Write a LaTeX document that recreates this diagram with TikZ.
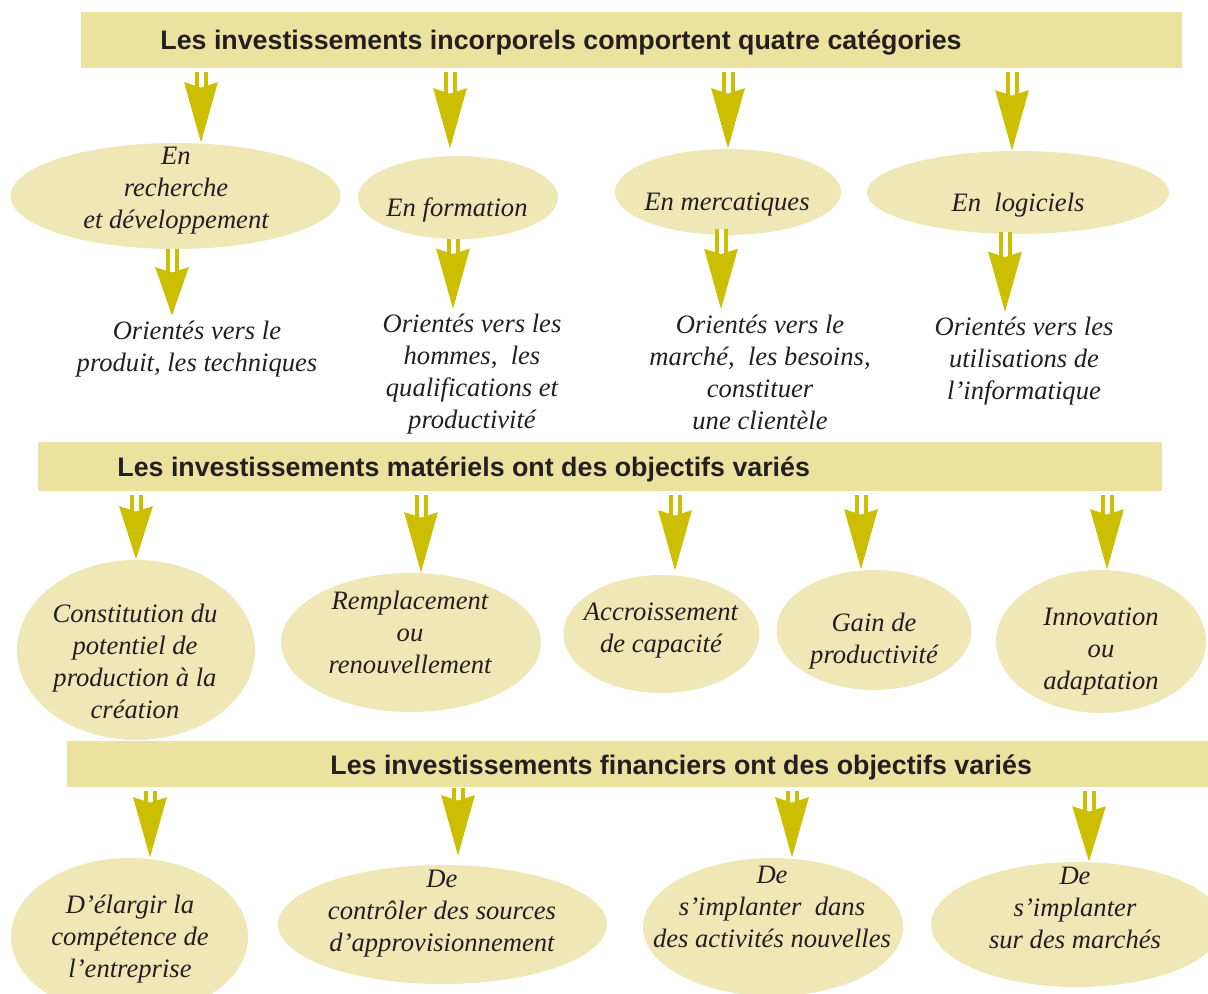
\documentclass[tikz,border=0pt]{standalone}
\usepackage{fontspec}
\setmainfont{Liberation Serif}
\setsansfont{Liberation Sans}
\usetikzlibrary{shapes.geometric, arrows.meta}
\definecolor{jaune}{RGB}{204,190,0}
\definecolor{sable}{RGB}{236,226,160}
\definecolor{creme}{RGB}{240,231,183}
\definecolor{encre}{RGB}{35,31,32}
\tikzset{
  bandeau/.style={rectangle, fill=sable, inner sep=0pt},
  titre/.style={anchor=west, inner sep=0pt, yshift=-1.5pt, text=encre, font=\sffamily\bfseries\fontsize{13.4}{16}\selectfont},
  bulle/.style={ellipse, fill=creme, inner sep=0pt},
  texte/.style={inner sep=0pt, yshift=-1.5pt, align=center, text=encre, font=\itshape\fontsize{13.3}{16}\selectfont},
  fleche/.style={draw=jaune, line width=2pt, double=white, double distance=2.5pt,
    -{Stealth[width=16.5pt, length=#1, inset=2.5pt]}, shorten <=2pt},
  fleche/.default=30pt
}
\begin{document}
\begin{tikzpicture}[x=0.5pt, y=-0.5pt]
  \useasboundingbox (0,0) rectangle (1208,994);
  \clip (0,0) rectangle (1208,994);
  % investissements incorporels
  \node[bandeau, minimum width=550.5pt, minimum height=28pt] (b1) at (631.5,40) {};
  \node[titre] (tb1) at (160,40) {Les investissements incorporels comportent quatre catégories};
  \node[bulle, minimum width=165pt, minimum height=53pt] (e1) at (175.5,196) {};
  \node[bulle, minimum width=100pt, minimum height=41.5pt] (e2) at (458,197.5) {};
  \node[bulle, minimum width=113pt, minimum height=43pt] (e3) at (728,192) {};
  \node[bulle, minimum width=151pt, minimum height=41.5pt] (e4) at (1018,192.5) {};
  \node[texte] (te1) at (176,188) {En\\recherche\\et développement};
  \node[texte] (te2) at (457,207) {En formation};
  \node[texte] (te3) at (727,202) {En mercatiques};
  \node[texte] (te4) at (1018,202) {En~ logiciels};
  \node[texte] (t1) at (197,346) {Orientés vers le\\produit, les techniques};
  \node[texte] (t2) at (472,371.5) {Orientés vers les\\hommes,~ les\\qualifications et\\productivité};
  \node[texte] (t3) at (760,369) {Orientés vers le\\marché,~ les besoins,\\constituer\\une clientèle};
  \node[texte] (t4) at (1024,358) {Orientés vers les\\utilisations de\\l’informatique};
  \draw[fleche] (b1.south -| 201,0) -- (e1.north -| 201,0);
  \draw[fleche, shorten >=3.5pt] (b1.south -| 450,0) -- (e2.north -| 450,0);
  \draw[fleche] (b1.south -| 728,0) -- (e3.north -| 728,0);
  \draw[fleche] (b1.south -| 1012,0) -- (e4.north -| 1012,0);
  \draw[fleche=24pt, shorten <=0pt, shorten >=2.5pt] (e1.south -| 172,0) -- (t1.north -| 172,0);
  \draw[fleche, shorten <=0pt, shorten >=2.5pt] (e2.south -| 453,0) -- (t2.north -| 453,0);
  \draw[fleche, shorten <=-3pt, shorten >=2.5pt] (e3.south -| 721,0) -- (t3.north -| 721,0);
  \draw[fleche, shorten <=-1pt, shorten >=2.25pt] (e4.south -| 1005,0) -- (t4.north -| 1005,0);
  % investissements materiels
  \node[bandeau, minimum width=562.25pt, minimum height=24.5pt] (b2) at (599.75,466.5) {};
  \node[titre] (tb2) at (117,466.5) {Les investissements matériels ont des objectifs variés};
  \node[bulle, minimum width=119pt, minimum height=90pt] (f1) at (136,650) {};
  \node[bulle, minimum width=130pt, minimum height=69.5pt] (f2) at (411,642.5) {};
  \node[bulle, minimum width=98pt, minimum height=59pt] (f3) at (661.5,634) {};
  \node[bulle, minimum width=97.5pt, minimum height=60pt] (f4) at (874,630) {};
  \node[bulle, minimum width=105pt, minimum height=71.5pt] (f5) at (1101,641.5) {};
  \node[texte] (tf1) at (135,658) {Constitution du\\potentiel de\\production à la\\création};
  \node[texte] (tf2) at (410,629.5) {Remplacement\\ou\\renouvellement};
  \node[texte] (tf3) at (661,628) {Accroissement\\de capacité};
  \node[texte] (tf4) at (874,638.5) {Gain de\\productivité};
  \node[texte] (tf5) at (1101,648.5) {Innovation\\ou\\adaptation};
  \draw[fleche=26.5pt] (b2.south -| 136,0) -- (f1.north -| 136,0);
  \draw[fleche] (b2.south -| 421,0) -- (f2.north -| 421,0);
  \draw[fleche, shorten >=2pt] (b2.south -| 675,0) -- (f3.north -| 675,0);
  \draw[fleche] (b2.south -| 861,0) -- (f4.north -| 861,0);
  \draw[fleche] (b2.south -| 1107,0) -- (f5.north -| 1107,0);
  % investissements financiers
  \node[bandeau, minimum width=574pt, minimum height=23pt] (b3) at (641,764) {};
  \node[titre] (tb3) at (330,764) {Les investissements financiers ont des objectifs variés};
  \node[bulle, minimum width=118.5pt, minimum height=79pt] (g1) at (129.5,937) {};
  \node[bulle, minimum width=164.5pt, minimum height=59.5pt] (g2) at (442.5,924.5) {};
  \node[bulle, minimum width=130pt, minimum height=69pt] (g3) at (773,927) {};
  \node[bulle, minimum width=146pt, minimum height=62.5pt] (g4) at (1077,924.5) {};
  \node[texte] (tg1) at (130,936.5) {D’élargir la\\compétence de\\l’entreprise};
  \node[texte] (tg2) at (442,910.5) {De\\contrôler des sources\\d’approvisionnement};
  \node[texte] (tg3) at (772,903.5) {De\\s’implanter~ dans\\des activités nouvelles};
  \node[texte] (tg4) at (1075,904.5) {De\\s’implanter\\sur des marchés};
  \draw[fleche] (b3.south -| 150,0) -- (g1.north -| 150,0);
  \draw[fleche, shorten <=0.5pt, shorten >=4.5pt] (b3.south -| 458,0) -- (g2.north -| 458,0);
  \draw[fleche] (b3.south -| 792,0) -- (g3.north -| 792,0);
  \draw[fleche=27.5pt] (b3.south -| 1089,0) -- (g4.north -| 1089,0);
\end{tikzpicture}
\end{document}
